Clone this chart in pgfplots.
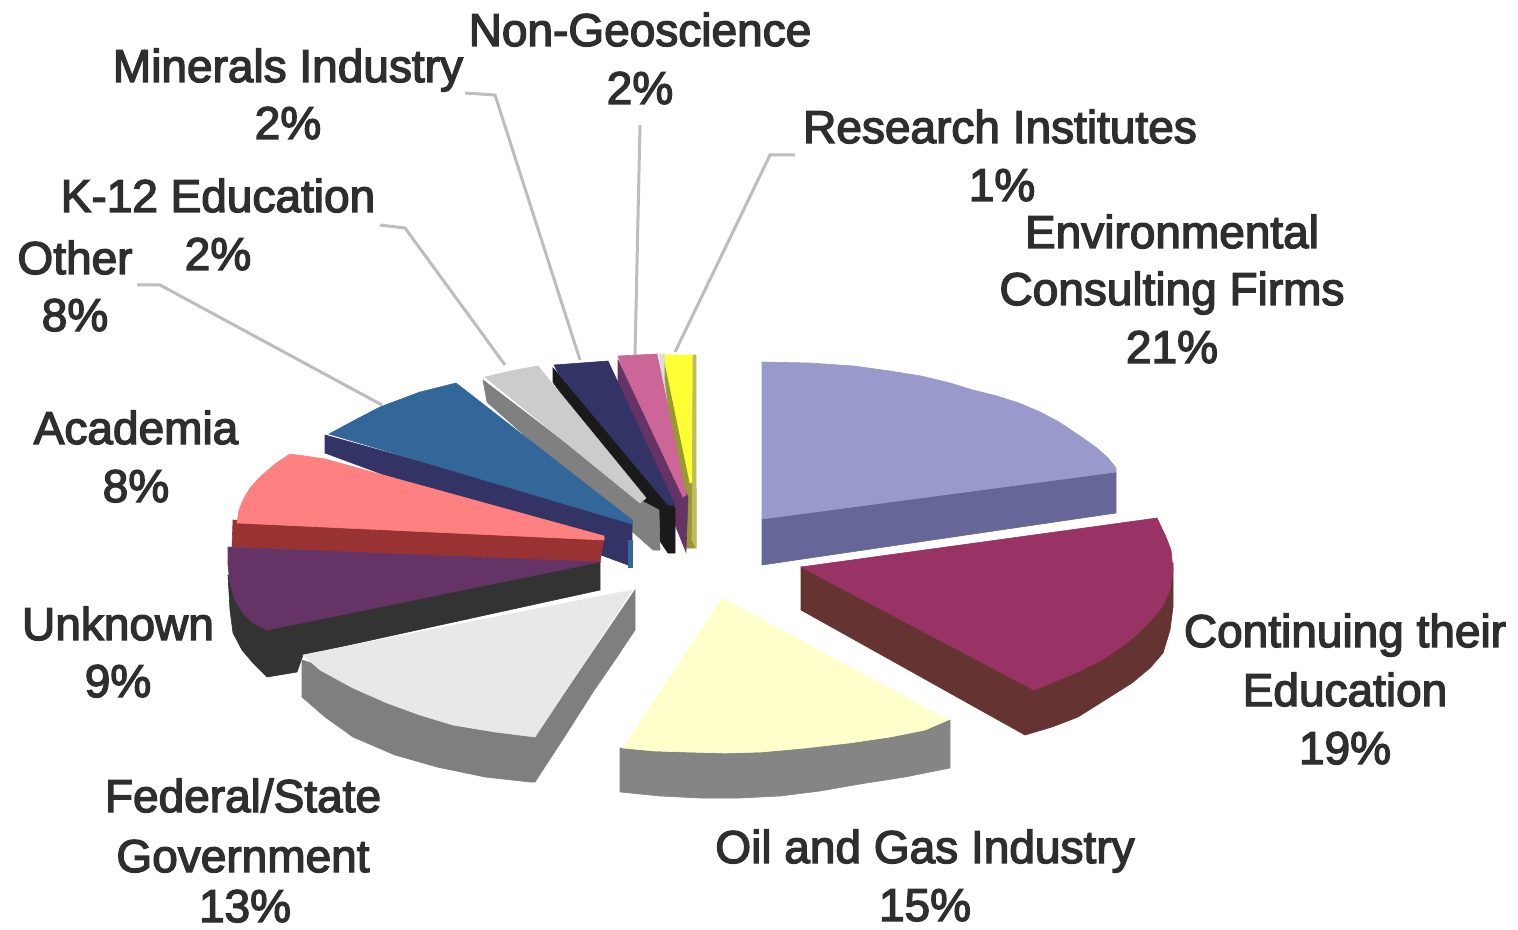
\documentclass[border=0pt]{standalone}
\usepackage{pgfplots}
\pgfplotsset{compat=1.18}
\usepackage{fontspec}
\setmainfont{Liberation Sans}[FakeBold=3]
\definecolor{lead}{HTML}{BDBDBD}
\definecolor{HTMLpurple}{HTML}{663366}
\definecolor{HTMLpink}{HTML}{CC6699}
\definecolor{HTMLdark}{HTML}{1A1A1A}
\definecolor{HTMLnavy}{HTML}{333366}
\definecolor{HTMLgrey}{HTML}{808080}
\definecolor{HTMLlgrey}{HTML}{CCCCCC}
\definecolor{HTMLblue}{HTML}{336699}
\definecolor{HTMLdred}{HTML}{993333}
\definecolor{HTMLsalmon}{HTML}{FF8080}
\definecolor{HTMLcoal}{HTML}{333333}
\definecolor{HTMLplum}{HTML}{663366}
\definecolor{HTMLsgrey}{HTML}{7F7F7F}
\definecolor{HTMLfed}{HTML}{E8E8E8}
\definecolor{HTMLsgrey2}{HTML}{858585}
\definecolor{HTMLcream}{HTML}{FFFFCC}
\definecolor{HTMLvdark}{HTML}{666699}
\definecolor{HTMLviolet}{HTML}{9999CC}
\definecolor{HTMLbrown}{HTML}{663333}
\definecolor{HTMLwine}{HTML}{993366}
\definecolor{HTMLyellow}{HTML}{FFFF33}
\definecolor{HTMLolive}{HTML}{999933}
\definecolor{HTMLolive2}{HTML}{BDBD60}
\definecolor{HTMLsliver}{HTML}{DDDDDD}
\newcommand{\lab}[3]{\node[anchor=base,inner sep=0pt,text=black!82] at (axis cs:#1,#2) {#3};}
\newcommand{\poly}[2]{\addplot[fill=#1,draw=#1,line width=0.3pt] coordinates {#2} --cycle;}
\begin{document}
\begin{tikzpicture}
\useasboundingbox (0,0) rectangle (759pt,465pt);
\begin{axis}[at={(0,0)},anchor=south west,width=759pt,height=465pt,scale only axis,hide axis,xmin=0,xmax=1518,ymin=0,ymax=930,y dir=reverse,clip=false,
  font=\fontsize{23}{28}\selectfont]
% leader lines
\addplot[lead,line width=1.5pt] coordinates {(137,285)(160,285)(382,405)};
\addplot[lead,line width=1.5pt] coordinates {(380,225)(405,228)(505,365)};
\addplot[lead,line width=1.5pt] coordinates {(465,93)(495,95)(580,360)};
\addplot[lead,line width=1.5pt] coordinates {(640,125)(635,355)};
\addplot[lead,line width=1.5pt] coordinates {(795,155)(770,155)(675,352)};
% Research Institutes
\poly{HTMLsliver}{(659,354)(665,354)(680,500)(675,500)}
\poly{HTMLolive}{(665,363)(665,380)(686,548)(696,548)(696,490)}
\poly{HTMLyellow}{(665,355)(693,355)(693,482)(690,483)(665,363)}
\poly{HTMLolive2}{(693,355)(696,355)(696,548)(692,540)}
% Non-Geoscience
\poly{HTMLpurple}{(618,360)(618,383)(682,542)(686,552)(688,497)}
\poly{HTMLpink}{(618,356)(657,354)(686,495)(683,497)(622,367)}
% Minerals
\poly{HTMLdark}{(553,368)(553,382)(668,553)(675,553)(675,508)}
\poly{HTMLnavy}{(554,365)(608,361)(675,505)(668,505)(558,373)}
% K-12
\poly{HTMLgrey}{(483,380)(487,402)(653,550)(660,550)(659,510)(640,500)}
\poly{HTMLlgrey}{(485,377)(515,370)(538,366)(646,498)(640,503)}
% Blue
\poly{HTMLnavy}{(325,435)(325,453)(628,565)(632,565)(632,520)}
\poly{HTMLblue}{(329,434)(355,420)(380,407)(420,392)(456,383)(632,520)(632,524)}
\poly{HTMLblue}{(628,540)(632,540)(632,567)(628,567)}
% Academia
\poly{HTMLdred}{(233,520)(232,547)(600,562)(604,538)}
\poly{HTMLsalmon}{(237,523)(239,510)(243,500)(250,488)(260,477)(275,464)(290,454)(305,456)(325,459)(604,536)(604,540)}
% Unknown
\poly{HTMLcoal}{(228,575)(230,610)(233,633)(242,650)(253,663)(267,677)(297,672)(303,655)(600,590)(600,562)}
\poly{HTMLplum}{(228,547)(600,562)(267,630)(253,623)(243,613)(235,600)(230,583)(228,565)}
% Federal
\poly{HTMLsgrey}{(302,660)(302,697)(325,717)(353,737)(395,755)(437,767)(485,777)(530,782)(535,782)(565,736)(593,692)(615,660)(635,630)(635,590)(535,737)}
\poly{HTMLfed}{(303,655)(632,590)(535,737)(495,732)(453,725)(420,715)(387,703)(353,688)(320,670)}
% Oil and Gas
\poly{HTMLsgrey2}{(620,748)(620,792)(660,796)(700,798)(740,798)(780,796)(820,791)(860,784)(905,777)(950,768)(950,720)(925,730)(890,737)(849,743)(805,748)(761,752)(725,753)(688,752)(655,751)}
\poly{HTMLcream}{(722,598)(948,720)(925,730)(890,737)(849,743)(805,748)(761,752)(725,753)(688,752)(655,751)(623,748)}
% Environmental
\poly{HTMLvdark}{(762,519)(1116,472)(1116,513)(762,565)}
\poly{HTMLviolet}{(762,362)(810,363)(854,366)(890,371)(921,376)(950,383)(973,390)(997,396)(1019,403)(1040,412)(1059,422)(1080,436)(1097,448)(1108,458)(1116,468)(1116,472)(762,519)}
% Continuing
\poly{HTMLbrown}{(801,567)(801,610)(1025,735)(1052,727)(1078,717)(1105,700)(1132,683)(1150,668)(1163,653)(1170,630)(1173,607)(1173,563)}
\poly{HTMLwine}{(801,567)(1157,518)(1166,537)(1171,550)(1173,570)(1170,590)(1162,607)(1151,620)(1135,636)(1117,650)(1098,662)(1078,672)(1056,681)(1034,690)}
% labels
\lab{640}{46}{Non-Geoscience}\lab{640}{104}{2\%}
\lab{288}{82}{Minerals Industry}\lab{288}{139}{2\%}
\lab{1000}{143}{Research Institutes}\lab{1002}{201}{1\%}
\lab{1172}{248}{Environmental}\lab{1172}{305}{Consulting Firms}\lab{1172}{363}{21\%}
\lab{218}{212}{K-12 Education}\lab{218}{270}{2\%}
\lab{75}{274}{Other}\lab{75}{331}{8\%}
\lab{136}{444}{Academia}\lab{136}{502}{8\%}
\lab{118}{640}{Unknown}\lab{118}{697}{9\%}
\lab{243}{812}{Federal/State}\lab{243}{872}{Government}\lab{245}{922}{13\%}
\lab{925}{863}{Oil and Gas Industry}\lab{925}{921}{15\%}
\lab{1345}{647}{Continuing their}\lab{1345}{706}{Education}\lab{1345}{764}{19\%}
\end{axis}
\end{tikzpicture}
\end{document}
